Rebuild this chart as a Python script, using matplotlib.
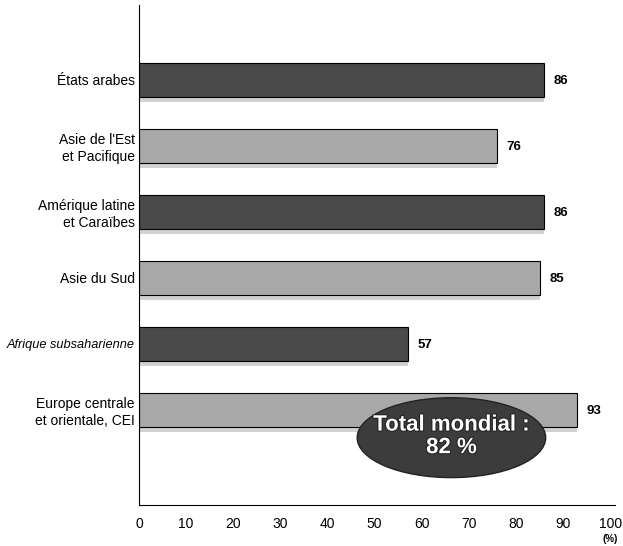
import matplotlib.pyplot as plt
from matplotlib.patches import Ellipse
import matplotlib.patheffects as pe

regions = ["États arabes", "Asie de l'Est\net Pacifique", "Amérique latine\net Caraïbes",
           "Asie du Sud", "Afrique subsaharienne", "Europe centrale\net orientale, CEI"]
values = [86, 76, 86, 85, 57, 93]
shades = ["#4a4a4a", "#a8a8a8", "#4a4a4a", "#a8a8a8", "#4a4a4a", "#a8a8a8"]
xticks = [0, 10, 20, 30, 40, 50, 60, 70, 80, 90, 100]
total_label = "Total mondial :\n82 %"

plt.rcParams["font.family"] = ["Liberation Sans", "DejaVu Sans"]

fig = plt.figure(figsize=(6.23, 5.46), dpi=100)
ax = fig.add_axes([0.2231, 0.0751, 0.764, 0.9158])

pos = list(range(len(values)))
# pale strip under each bar, like a drop shadow
ax.barh([p + 0.29 for p in pos], values, height=0.09, color="#d2d2d2", zorder=1)
ax.barh(pos, values, height=0.52, color=shades, edgecolor="black", linewidth=0.8, zorder=2)

for p, v in zip(pos, values):
    ax.annotate(str(v), (v, p), xytext=(7, -1), textcoords="offset points",
                ha="left", va="center", fontsize=9.5, fontweight="bold")

ax.set_xlim(0, 101)
ax.set_ylim(6.44, -1.136)
ax.set_yticks(pos)
ax.set_yticklabels(regions, fontsize=10)
for lab in ax.get_yticklabels():
    if lab.get_text().startswith("Afrique"):
        lab.set_fontstyle("italic")
        lab.set_fontsize(9.2)
ax.set_xticks(xticks)
ax.set_xticklabels([str(t) for t in xticks], fontsize=10)
ax.tick_params(length=0, pad=3)
ax.tick_params(axis="x", pad=9)
ax.spines["top"].set_visible(False)
ax.spines["right"].set_visible(False)
ax.annotate("(%)", (100, 6.44), xytext=(0, -21), textcoords="offset points",
            ha="center", va="top", fontsize=7, fontweight="bold")

# ellipse with the world total
ell = Ellipse((66.3, 5.42), width=40, height=1.21, facecolor="#3c3c3c",
              edgecolor="#222222", linewidth=1, zorder=4)
ax.add_patch(ell)
ax.text(66.3, 5.40, total_label, ha="center", va="center", fontsize=16,
        fontweight="bold", color="white", linespacing=1.1, zorder=5,
        path_effects=[pe.withStroke(linewidth=1.5, foreground="#222222")])

fig.savefig("out.png", dpi=100)
